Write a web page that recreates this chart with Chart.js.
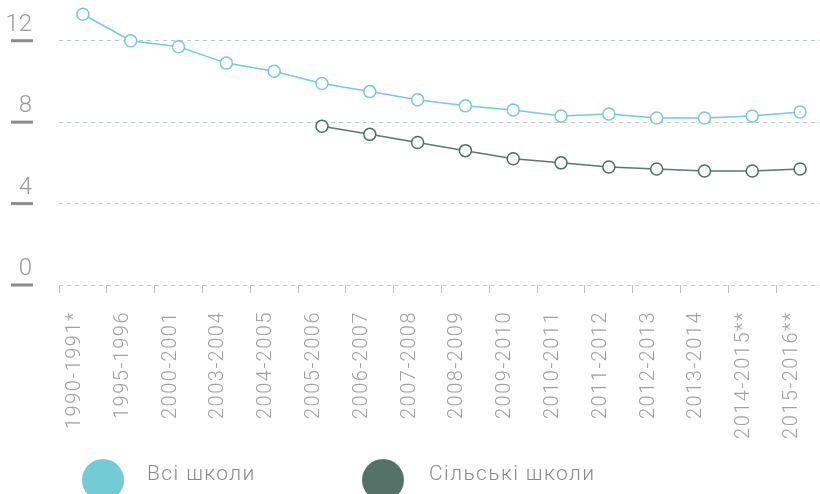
<!DOCTYPE html>
<html lang="uk">
<head>
<meta charset="utf-8">
<title>Кількість учнів на одного вчителя</title>
<script src="https://cdn.jsdelivr.net/npm/chart.js@4.4.1/dist/chart.umd.min.js"></script>
<style>
    html, body { margin: 0; padding: 0; background: #ffffff; overflow: hidden; }
    .diagram-container { position: relative; width: 824px; height: 494px; }
    .legenda-punkt { position: absolute; width: 42px; height: 42px; border-radius: 50%; }
    .legenda-tekst {
        position: absolute;
        font-family: Roboto, "Noto Sans", sans-serif;
        font-weight: 300;
        font-size: 21px;
        letter-spacing: 1.4px;
        color: #8a8a8a;
        line-height: 1;
        white-space: nowrap;
    }
</style>
</head>
<body>
<div class="diagram-container">
    <canvas id="mittDiagram" width="824" height="494"></canvas>
    <div class="legenda-punkt" style="left:82px; top:459px; background:#72cbd5;"></div>
    <div class="legenda-tekst" style="left:147px; top:463px;">Всі школи</div>
    <div class="legenda-punkt" style="left:362px; top:459px; background:#557269;"></div>
    <div class="legenda-tekst" style="left:429px; top:463px;">Сільські школи</div>
</div>
<script>
// Навчальні роки (підписи осі X)
const navchalniRoky = ['1990-1991*', '1995-1996', '2000-2001', '2003-2004', '2004-2005', '2005-2006',
    '2006-2007', '2007-2008', '2008-2009', '2009-2010', '2010-2011', '2011-2012',
    '2012-2013', '2013-2014', '2014-2015**', '2015-2016**'];

// Всі школи
const vsiShkoly = [13.3, 12.0, 11.7, 10.9, 10.5, 9.9, 9.5, 9.1, 8.8, 8.6, 8.3, 8.4, 8.2, 8.2, 8.3, 8.5];

// Сільські школи (дані з 2005-2006)
const silskiShkoly = [null, null, null, null, null, 7.8, 7.4, 7.0, 6.6, 6.2, 6.0, 5.8, 5.7, 5.6, 5.6, 5.7];

// Поділки осі Y
const pidpysyY = [0, 4, 8, 12];

const ShkolyDiagram = {};

ShkolyDiagram.shryft = 'Roboto, "Noto Sans", sans-serif';

// Трохи розріджений текст на осях
ShkolyDiagram.rozridzhennia = {
    id: 'rozridzhennia',
    beforeDraw(chart) {
        chart.ctx.letterSpacing = '1.5px';
    }
};

// Підписи осі Y малюємо над рискою
ShkolyDiagram.pidpysyOsiY = {
    id: 'pidpysyOsiY',
    afterDraw(chart) {
        const ctx = chart.ctx;
        const y = chart.scales.y;
        ctx.save();
        ctx.letterSpacing = '0px';
        pidpysyY.forEach(v => {
            const py = y.getPixelForValue(v);
            ctx.fillStyle = '#8c8c8c';
            ctx.fillRect(11, py - 1.5, 22, 3);
            ctx.fillStyle = '#9a9a9a';
            ctx.font = '300 24px ' + ShkolyDiagram.shryft;
            ctx.textAlign = 'right';
            ctx.textBaseline = 'alphabetic';
            ctx.fillText(String(v), 32, py - 10);
        });
        ctx.restore();
        ctx.letterSpacing = '0px';
    }
};

ShkolyDiagram.ctx = document.getElementById('mittDiagram').getContext('2d');

ShkolyDiagram.diagram = new Chart(ShkolyDiagram.ctx, {
    type: 'line',
    data: {
        labels: navchalniRoky,
        datasets: [{
            label: 'Всі школи',
            data: vsiShkoly,
            borderColor: '#72cbd5',
            borderWidth: 1.5,
            pointRadius: 6,
            pointBorderWidth: 1.5,
            pointBackgroundColor: '#ffffff',
            pointBorderColor: '#72cbd5',
            tension: 0,
            fill: false
        }, {
            label: 'Сільські школи',
            data: silskiShkoly,
            borderColor: '#5a7770',
            borderWidth: 1.5,
            pointRadius: 6,
            pointBorderWidth: 1.5,
            pointBackgroundColor: '#ffffff',
            pointBorderColor: '#4f6c64',
            tension: 0,
            fill: false
        }]
    },
    options: {
        responsive: false,
        animation: false,
        clip: false,
        layout: { padding: 0, autoPadding: false },
        plugins: {
            legend: { display: false },
            tooltip: { enabled: false }
        },
        scales: {
            x: {
                offset: true,
                afterFit(scale) {
                    scale.height = 209;
                    scale.paddingLeft = 0;
                    scale.paddingRight = 0;
                },
                grid: {
                    offset: true,
                    drawOnChartArea: false,
                    drawTicks: true,
                    tickLength: 8,
                    color: '#bdbdbd',
                    lineWidth: 1
                },
                border: { display: false },
                ticks: {
                    autoSkip: false,
                    minRotation: 90,
                    maxRotation: 90,
                    padding: 18,
                    labelOffset: -8,
                    color: '#a0a0a0',
                    font: { family: ShkolyDiagram.shryft, size: 20, weight: 300 }
                }
            },
            y: {
                min: 0,
                max: 14,
                afterFit(scale) { scale.width = 59; },
                afterBuildTicks(scale) {
                    scale.ticks = pidpysyY.map(v => ({ value: v }));
                },
                grid: {
                    drawTicks: false,
                    color: '#b7c9c8',
                    lineWidth: 1
                },
                border: { display: false, dash: [4, 4] },
                ticks: { display: false }
            }
        }
    },
    plugins: [ShkolyDiagram.rozridzhennia, ShkolyDiagram.pidpysyOsiY]
});
</script>
</body>
</html>
